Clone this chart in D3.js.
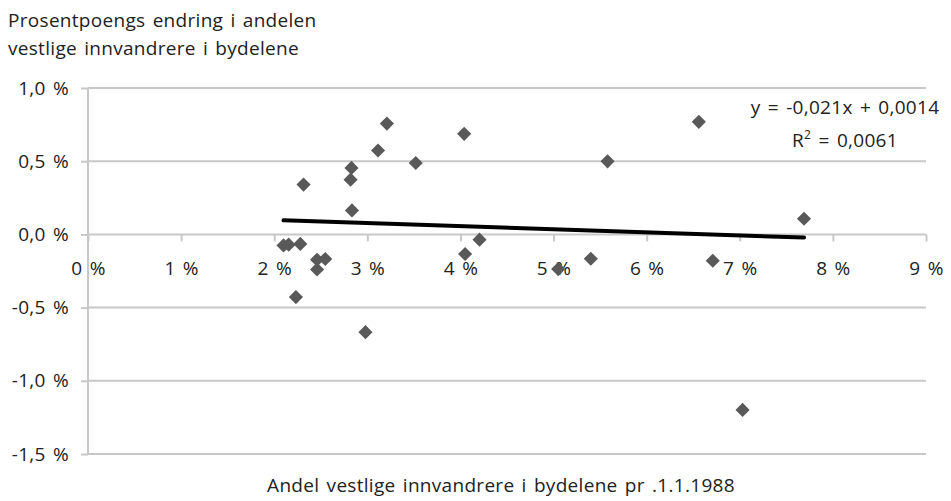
<!DOCTYPE html>
<html>
<head>
<meta charset="utf-8">
<script src="https://cdn.jsdelivr.net/npm/d3@7"></script>
<style>
  body { margin: 0; background: #fff; }
  svg text { font-family: "Open Sans", "Noto Sans", sans-serif; fill: #222; letter-spacing: 0.3px; word-spacing: 2px; }
</style>
</head>
<body>
<svg id="chart" width="951" height="501"></svg>
<script>
// andel vestlige innvandrere 1.1.1988 (%) og endring i prosentpoeng, per bydel
var andel1988 = [2.10, 2.155, 2.28, 2.233, 2.315, 2.46, 2.548, 2.46, 2.82, 2.83, 2.835, 2.98, 3.115,
                 3.21, 3.52, 4.04, 4.05, 4.205, 5.05, 5.40, 5.58, 6.56, 6.71, 7.03, 7.69];
var endring = [-0.075, -0.07, -0.065, -0.428, 0.34, -0.173, -0.168, -0.24, 0.374, 0.454, 0.164, -0.668, 0.573,
               0.757, 0.488, 0.687, -0.134, -0.036, -0.237, -0.166, 0.499, 0.769, -0.18, -1.199, 0.107];
var xTicks = [0, 1, 2, 3, 4, 5, 6, 7, 8, 9];
var yTicks = [1.0, 0.5, 0.0, -0.5, -1.0, -1.5];
var trend = { slope: -0.021, intercept: 0.0014 };   // fra Excel, i brøk
var eqText = "y = -0,021x + 0,0014";
var r2Text = "0,0061";
var yTitle = ["Prosentpoengs endring i andelen", "vestlige innvandrere i bydelene"];
var xTitle = "Andel vestlige innvandrere i bydelene pr .1.1.1988";

var fs = 19;
var svg = d3.select("#chart");

var x = d3.scaleLinear().domain([0, 9]).range([88, 926]);
var y = d3.scaleLinear().domain([-1.5, 1.0]).range([454, 88]);

var grid = "#c8c8c8";
// vanlig bindestrek som minus, komma som desimaltegn
var fmt = function(v){ return (v < 0 ? "-" : "") + Math.abs(v).toFixed(1).replace(".", ",") + " %"; };

// horisontale rutenett
svg.append("g").selectAll("line")
  .data(yTicks.filter(function(d){ return d != 0; }))
  .enter().append("line")
  .attr("x1", x(0)).attr("x2", x(9))
  .attr("y1", function(d){ return y(d); })
  .attr("y2", function(d){ return y(d); })
  .attr("stroke", grid).attr("stroke-width", 2);

// y-akse
var yAxis = svg.append("g")
  .attr("transform", "translate(" + x(0) + ",0)")
  .call(d3.axisLeft(y).tickValues(yTicks).tickSize(7).tickPadding(12).tickFormat(fmt));
yAxis.select(".domain").attr("stroke", grid).attr("stroke-width", 2).attr("d", "M0," + y(1.0) + "V" + y(-1.5));
yAxis.selectAll(".tick line").attr("stroke", grid).attr("stroke-width", 2);
yAxis.selectAll(".tick text").attr("font-size", fs).attr("fill", "#222").attr("font-family", null);

// x-akse ved null
var xAxis = svg.append("g")
  .attr("transform", "translate(0," + y(0) + ")")
  .call(d3.axisBottom(x).tickValues(xTicks).tickSize(7).tickPadding(20)
        .tickFormat(function(d){ return d + " %"; }));
xAxis.select(".domain").attr("stroke", grid).attr("stroke-width", 2).attr("d", "M" + x(0) + ",0H" + x(9));
xAxis.selectAll(".tick line").attr("stroke", grid).attr("stroke-width", 2);
xAxis.selectAll(".tick text").attr("font-size", fs).attr("fill", "#222").attr("font-family", null);

// trendlinje
var xMin = d3.min(andel1988), xMax = d3.max(andel1988);
var tl = function(v){ return (trend.slope * v / 100 + trend.intercept) * 100; };
svg.append("line")
  .attr("x1", x(xMin)).attr("y1", y(tl(xMin)))
  .attr("x2", x(xMax)).attr("y2", y(tl(xMax)))
  .attr("stroke", "#000").attr("stroke-width", 4).attr("stroke-linecap", "round");

// punkter
var pts = andel1988.map(function(v, i){ return { x: v, y: endring[i] }; });
svg.append("g").selectAll("path")
  .data(pts)
  .enter().append("path")
  .attr("d", d3.symbol().type(d3.symbolSquare).size(100))
  .attr("transform", function(d){ return "translate(" + x(d.x) + "," + y(d.y) + ") rotate(45)"; })
  .attr("fill", "#595959");

// likning
svg.append("text").attr("x", 845).attr("y", 114)
  .attr("text-anchor", "middle").attr("font-size", fs).text(eqText);
var r2 = svg.append("text").attr("x", 845).attr("y", 147)
  .attr("text-anchor", "middle").attr("font-size", fs);
r2.append("tspan").text("R");
r2.append("tspan").attr("dy", -8).attr("font-size", 12).text("2");
r2.append("tspan").attr("dy", 8).text(" = " + r2Text);

// aksetitler
svg.append("g").selectAll("text")
  .data(yTitle)
  .enter().append("text")
  .attr("x", 8)
  .attr("y", function(d, i){ return 27 + i * 28; })
  .attr("font-size", fs)
  .text(function(d){ return d; });

svg.append("text").attr("x", 501).attr("y", 492)
  .attr("text-anchor", "middle").attr("font-size", fs).text(xTitle);
</script>
</body>
</html>
